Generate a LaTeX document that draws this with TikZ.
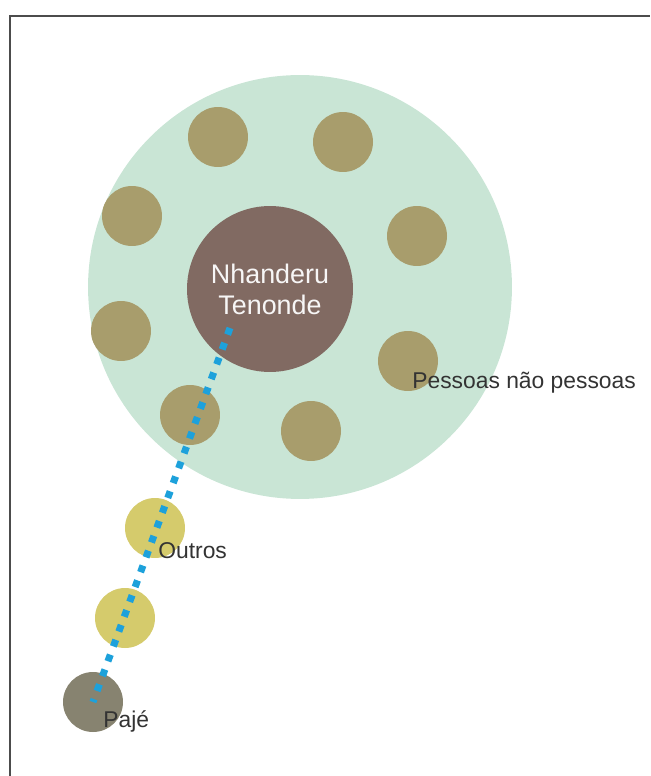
\documentclass[tikz,border=0pt]{standalone}
\usepackage{fontspec}
\setmainfont{Liberation Sans}
\usetikzlibrary{positioning}
\definecolor{mintgreen}{HTML}{C9E5D5}
\definecolor{olivedot}{HTML}{A89D6C}
\definecolor{godbrown}{HTML}{816A62}
\definecolor{otheryellow}{HTML}{D5CB6C}
\definecolor{pajegray}{HTML}{878370}
\definecolor{pathblue}{HTML}{1DA1DB}
\definecolor{labelgray}{HTML}{333333}

\begin{document}
\begin{tikzpicture}[
    x=0.02cm, y=-0.02cm,
    every node/.style={circle, inner sep=0pt},
    being/.style={fill=olivedot, minimum size=1.2cm},
    other/.style={fill=otheryellow, minimum size=1.2cm},
    label_text/.style={rectangle, anchor=base west, text=labelgray, font=\fontsize{13}{15}\selectfont}
]
\useasboundingbox (0,0) rectangle (650,776);
\draw[black!70, line width=1pt] (10,776) -- (10,16) -- (650,16);
\node (world) [fill=mintgreen, minimum size=8.48cm] at (300,287) {};
\node (being_a) [being] at (218,137) {};
\node (being_b) [being] at (343,142) {};
\node (being_c) [being] at (132,216) {};
\node (being_d) [being] at (417,236) {};
\node (being_e) [being] at (121,331) {};
\node (being_f) [being] at (408,361) {};
\node (being_g) [being] at (190,415) {};
\node (being_h) [being] at (311,431) {};
\node (nhanderu_tenonde) [fill=godbrown, minimum size=3.32cm, text=white!94!godbrown, align=center, font=\fontsize{15.3}{17.6}\selectfont] at (270,289) {Nhanderu\\Tenonde};
\node (other_a) [other] at (155,528) {};
\node (other_b) [other] at (125,618) {};
\node (paje) [fill=pajegray, minimum size=1.2cm] at (93,702) {};
\coordinate (path_start) at (230,328);
\draw[pathblue, line width=4pt, dash pattern=on 4pt off 5pt] (path_start) -- (paje.center);
\node (outros_label) [label_text] at (158,558) {Outros};
\node (paje_label) [label_text] at (103,727) {Pajé};
\node (pessoas_label) [label_text] at (412,388) {Pessoas não pessoas};
\end{tikzpicture}
\end{document}
